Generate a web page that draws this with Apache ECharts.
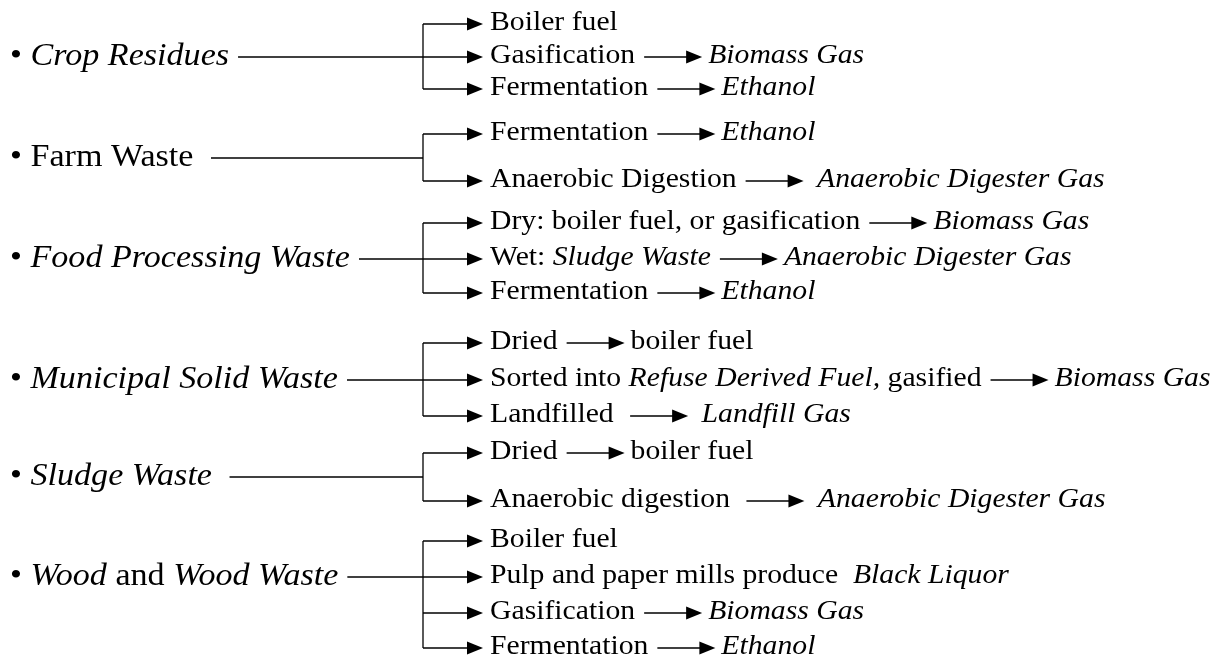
<!DOCTYPE html>
<html><head><meta charset="utf-8">
<style>html,body{margin:0;padding:0;background:#fff}#c{width:1225px;height:659px}</style>
<script src="https://cdn.jsdelivr.net/npm/echarts@6/dist/echarts.min.js"></script>
</head><body><div id="c"></div>
<script>
// ---- content (pieces: [text, italic]) ----
const sources = [
  [['Crop Residues', 1]],
  [['Farm Waste ', 0]],
  [['Food Processing Waste', 1]],
  [['Municipal Solid Waste', 1]],
  [['Sludge Waste ', 1]],
  [['Wood', 1], [' and ', 0], ['Wood Waste', 1]]
];
// vertical position of each source row (y axis units)
const sourceRows = [57, 158, 259, 380, 477, 577];
// branches: each branch is a list of stages joined by arrows
const branches = [
  [
    [[['Boiler fuel', 0]]],
    [[['Gasification', 0]], [['Biomass Gas', 1]]],
    [[['Fermentation', 0]], [['Ethanol', 1]]]
  ],
  [
    [[['Fermentation', 0]], [['Ethanol', 1]]],
    [[['Anaerobic Digestion', 0]], [[' Anaerobic Digester Gas', 1]]]
  ],
  [
    [[['Dry: boiler fuel, or gasification', 0]], [['Biomass Gas', 1]]],
    [[['Wet: ', 0], ['Sludge Waste', 1]], [['Anaerobic Digester Gas', 1]]],
    [[['Fermentation', 0]], [['Ethanol', 1]]]
  ],
  [
    [[['Dried', 0]], [['boiler fuel', 0]]],
    [[['Sorted into ', 0], ['Refuse Derived Fuel,', 1], [' gasified', 0]], [['Biomass Gas', 1]]],
    [[['Landfilled ', 0]], [[' Landfill Gas', 1]]]
  ],
  [
    [[['Dried', 0]], [['boiler fuel', 0]]],
    [[['Anaerobic digestion ', 0]], [[' Anaerobic Digester Gas', 1]]]
  ],
  [
    [[['Boiler fuel', 0]]],
    [[['Pulp and paper mills produce  ', 0], ['Black Liquor', 1]]],
    [[['Gasification', 0]], [['Biomass Gas', 1]]],
    [[['Fermentation', 0]], [['Ethanol', 1]]]
  ]
];
const branchRows = [[24, 57, 89], [134, 181], [223, 259, 293], [343, 380, 416], [453, 501], [541, 577, 613, 648]];

// ---- layout / style constants ----
const SRC_FS = 31, BR_FS = 27, SX = 1.1;
const BULLET_X = 10, BRACKET_X = 423, TIP_X = 483, TEXT_X = 490;
const ARROW_LEN = 58, GAP_BEFORE = 9, GAP_AFTER = 6, SRC_GAP = 9;
const HEAD_L = 16, HEAD_H = 6.5, LW = 1.3, INK = '#000';
const FAMILY = '"Liberation Serif", "Times New Roman", Times, serif';

const ctx = document.createElement('canvas').getContext('2d');
function fontOf(it, fs) { return (it ? 'italic ' : '') + fs + 'px ' + FAMILY; }
function measure(t, it, fs) { ctx.font = fontOf(it, fs); return ctx.measureText(t).width * SX; }

function addPieces(ch, parts, x, y, fs) {
  for (const [t, it] of parts) {
    ch.push({ type: 'text', x: x, y: y, scaleX: SX, silent: true,
      style: { text: t, x: 0, y: 0, font: fontOf(it, fs), fill: INK, align: 'left', verticalAlign: 'middle' } });
    x += measure(t, it, fs);
  }
  return x;
}
function addArrow(ch, x1, x2, y) {
  ch.push({ type: 'line', silent: true, shape: { x1: x1, y1: y, x2: x2 - HEAD_L + 1, y2: y }, style: { stroke: INK, lineWidth: LW } });
  ch.push({ type: 'polygon', silent: true, shape: { points: [[x2, y], [x2 - HEAD_L, y - HEAD_H], [x2 - HEAD_L, y + HEAD_H]] }, style: { fill: INK } });
}

function renderItem(params, api) {
  const i = api.value(0);
  const sy = api.coord([0, api.value(1)])[1];
  const px = v => api.coord([v, 0])[0];
  const ch = [];
  // source label
  let x = addPieces(ch, [['\u2022 ', 0]], px(BULLET_X), sy, SRC_FS);
  x = addPieces(ch, sources[i], x, sy, SRC_FS);
  const bx = px(BRACKET_X);
  ch.push({ type: 'line', silent: true, shape: { x1: x + SRC_GAP, y1: sy, x2: bx, y2: sy }, style: { stroke: INK, lineWidth: LW } });
  const rows = branchRows[i].map(v => api.coord([0, v])[1]);
  ch.push({ type: 'line', silent: true, shape: { x1: bx, y1: rows[0], x2: bx, y2: rows[rows.length - 1] }, style: { stroke: INK, lineWidth: LW } });
  branches[i].forEach((stages, k) => {
    const ry = rows[k];
    addArrow(ch, bx, px(TIP_X), ry);
    let tx = px(TEXT_X);
    stages.forEach((parts, s) => {
      if (s > 0) {
        const a1 = tx + GAP_BEFORE;
        addArrow(ch, a1, a1 + ARROW_LEN, ry);
        tx = a1 + ARROW_LEN + GAP_AFTER;
      }
      tx = addPieces(ch, parts, tx, ry - 1, BR_FS);
    });
  });
  return { type: 'group', children: ch };
}

const chart = echarts.init(document.getElementById('c'), null, { renderer: 'canvas' });
chart.setOption({
  animation: false,
  backgroundColor: '#fff',
  grid: { left: 0, right: 0, top: 0, bottom: 0 },
  xAxis: { type: 'value', min: 0, max: 1225, show: false },
  yAxis: { type: 'value', min: 0, max: 659, inverse: true, show: false },
  series: [{
    type: 'custom',
    renderItem: renderItem,
    clip: false,
    data: sources.map((s, i) => [i, sourceRows[i]])
  }]
});
</script>
</body></html>
